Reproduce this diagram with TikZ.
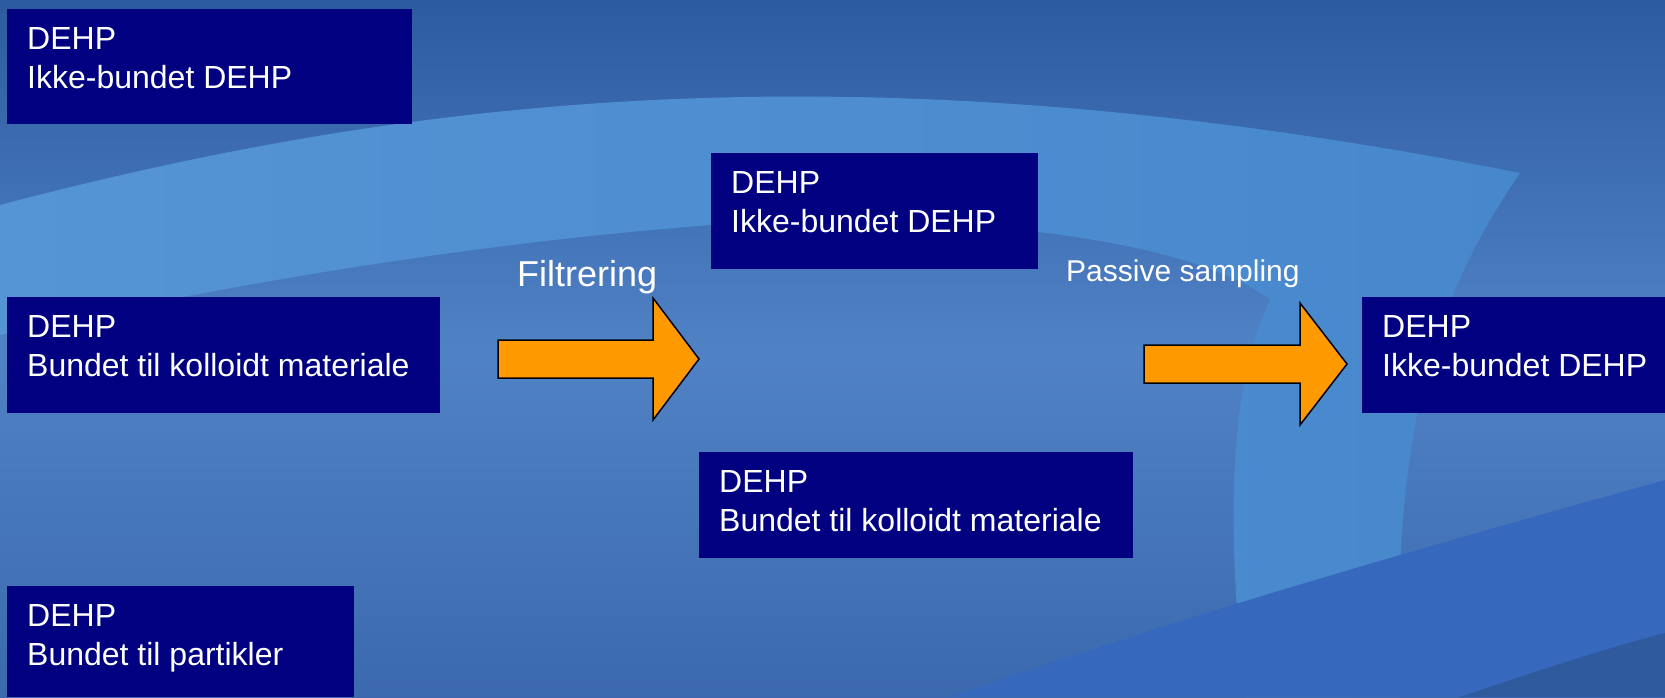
\documentclass[tikz,border=0pt]{standalone}
\usepackage{fontspec}
\setmainfont{Liberation Sans}
\definecolor{boxblue}{HTML}{000080}
\definecolor{arroworange}{HTML}{FF9900}
\definecolor{bgtop}{HTML}{2E5BA0}
\definecolor{bgmid}{HTML}{5082C6}
\definecolor{bgbottom}{HTML}{3C69AD}
\definecolor{bandleft}{HTML}{5595D5}
\definecolor{bandright}{HTML}{4787CC}
\definecolor{bgswoosh}{HTML}{3668BE}
\definecolor{bgdark}{HTML}{2F5A9D}

\begin{document}
\begin{tikzpicture}[x=1pt,y=-1pt,
  box/.style={rectangle,fill=boxblue,inner sep=0pt,anchor=north west},
  boxtext/.style={anchor=north west,inner sep=0pt,text=white,align=left,
    font=\fontsize{32}{39}\selectfont,xshift=20pt,yshift=-18pt},
  blockarrow/.style={fill=arroworange,draw=black,line width=1.5pt,line join=miter},
  steplabel/.style={anchor=base west,inner sep=0pt,text=white}]

  % Background
  \useasboundingbox (0,0) rectangle (1665,697);
  \shade[top color=bgtop,bottom color=bgmid] (0,0) rectangle (1665,351);
  \shade[top color=bgmid,bottom color=bgbottom] (0,350) rectangle (1665,697);
  \shade[left color=bandleft,right color=bandright]
    (0,205) .. controls (400,100) and (850,40) .. (1520,173)
    .. controls (1440,290) and (1390,420) .. (1400,697) -- (1245,697)
    .. controls (1225,520) and (1230,380) .. (1270,300)
    .. controls (1180,230) and (900,210) .. (711,225)
    .. controls (450,245) and (200,290) .. (0,335) -- cycle;
  \fill[bgswoosh] (950,697) .. controls (1200,610) and (1450,540) .. (1665,480)
    -- (1665,697) -- cycle;
  \fill[bgdark] (1460,697) .. controls (1540,670) and (1600,650) .. (1665,633)
    -- (1665,697) -- cycle;

  % Sample before filtering
  \foreach \i/\y/\w/\h/\txt in {1/9/405/115/{Ikke-bundet DEHP},
                                2/297/433/116/{Bundet til kolloidt materiale},
                                3/586/347/111/{Bundet til partikler}}
  {
    \node[box,minimum width=\w pt,minimum height=\h pt] (S-\i) at (7,\y) {};
    \node[boxtext] (S-\i-t) at (S-\i.north west) {DEHP\\\txt};
  }

  % Filtrate
  \node[box,minimum width=327pt,minimum height=116pt] (F-1) at (711,153) {};
  \node[boxtext] (F-1-t) at (F-1.north west) {DEHP\\Ikke-bundet DEHP};
  \node[box,minimum width=434pt,minimum height=106pt] (F-2) at (699,452) {};
  \node[boxtext] (F-2-t) at (F-2.north west) {DEHP\\Bundet til kolloidt materiale};

  % Passive sampler
  \node[box,minimum width=303pt,minimum height=116pt] (P) at (1362,297) {};
  \node[boxtext] (P-t) at (P.north west) {DEHP\\Ikke-bundet DEHP};

  % Arrows
  \draw[blockarrow] (498,340) -- (653,340) -- (653,298) -- (699,359) -- (653,420)
    -- (653,378) -- (498,378) -- cycle;
  \draw[blockarrow] (1144,345) -- (1300,345) -- (1300,303) -- (1347,364) -- (1300,425)
    -- (1300,383) -- (1144,383) -- cycle;

  % Labels
  \node[steplabel,font=\fontsize{36}{43}\selectfont] (filt) at (517,286) {Filtrering};
  \node[steplabel,font=\fontsize{30}{36}\selectfont] (pas) at (1066,281) {Passive sampling};
\end{tikzpicture}
\end{document}
